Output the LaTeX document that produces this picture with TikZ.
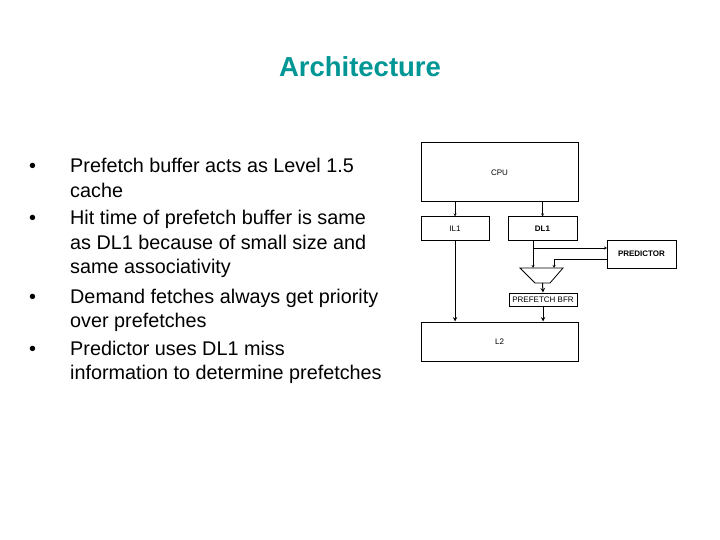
\documentclass[tikz,border=0pt]{standalone}
\usepackage{fontspec}
\setmainfont{Liberation Sans}
\definecolor{teal1}{RGB}{0,150,150}
\begin{document}
\begin{tikzpicture}[x=1pt,y=-1pt,
  blk/.style={draw,line width=1pt,inner sep=0pt,font=\fontsize{8}{9}\selectfont},
  arr/.style={->,>=stealth},
  txt/.style={anchor=base west,font=\fontsize{19.8}{22}\selectfont,inner sep=0pt}]
\useasboundingbox (0,0) rectangle (720,540);
\node[font=\bfseries\fontsize{27.5}{30}\selectfont,text=teal1] (title) at (360,67) {Architecture};
\foreach \y/\t [count=\i] in {166/Prefetch buffer acts as Level 1.5,218/Hit time of prefetch buffer is same,296/Demand fetches always get priority,348/Predictor uses DL1 miss}
  {\node[txt] (b\i) at (29,\y+7) {\textbullet}; \node[txt] (t\i) at (70,\y+7) {\t};}
\node[txt] (c1) at (70,197) {cache};
\node[txt] (c2) at (70,249) {as DL1 because of small size and};
\node[txt] (c3) at (70,273) {same associativity};
\node[txt] (c4) at (70,327) {over prefetches};
\node[txt] (c5) at (70,379) {information to determine prefetches};
% diagram
\node[blk,minimum width=157,minimum height=59] (cpu) at (499.5,172.5) {CPU};
\node[blk,minimum width=68,minimum height=23] (il1) at (455,228.5) {IL1};
\node[blk,minimum width=69,minimum height=23] (dl1) at (542.5,228.5) {\bfseries DL1};
\node[blk,minimum width=69,minimum height=28] (pred) at (641.5,254) {\bfseries PREDICTOR};
\node[blk,minimum width=68,minimum height=13] (pbf) at (543,299.5) {PREFETCH BFR};
\node[blk,minimum width=157,minimum height=39] (l2) at (499.5,341.5) {L2};
\draw[line width=0.8pt] (520,268) coordinate (tl) -- (563,268) coordinate (tr) -- (550,283) -- (535,283) coordinate (bl) -- cycle;
\coordinate (tb) at (542.5,283);
\draw[arr] (cpu.south -| il1.north) -- (il1.north);
\draw[arr] (cpu.south -| dl1.north) -- (dl1.north);
\draw[arr,line width=1pt] (il1.south) -- (il1.south |- l2.north);
\coordinate (d0) at (533,240);
\coordinate (m1) at (533,268);
\draw[arr] (d0) -- (m1);
\draw[arr] (533,248) -- (607,248);
\coordinate (m2) at (554,268);
\draw[arr] (pred.west |- 0,259) -| (m2);
\draw[arr,line width=1pt] (tb) -- (pbf.north);
\draw[arr,line width=1pt] (pbf.south) -- (pbf.south |- l2.north);
\end{tikzpicture}
\end{document}
